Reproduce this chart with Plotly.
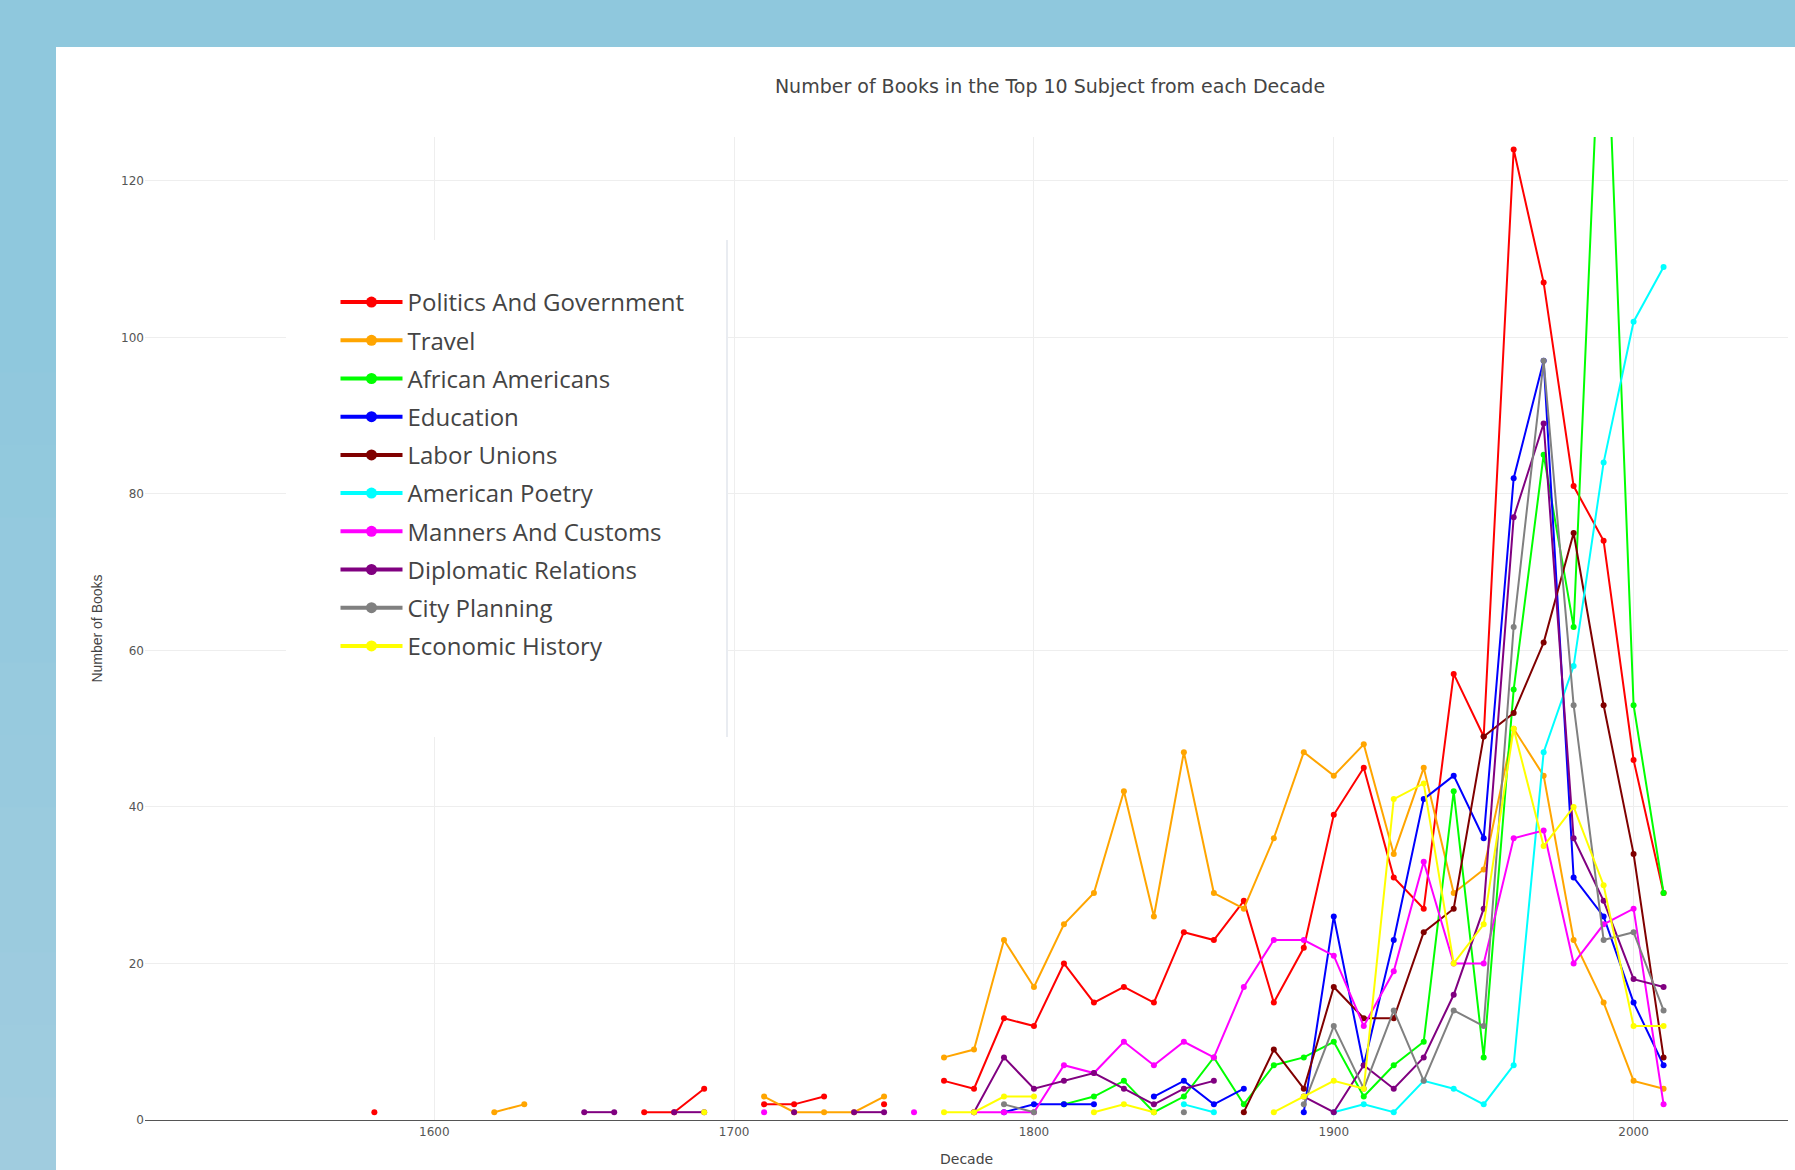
import plotly.graph_objects as go

N = None
decades = list(range(1580, 2020, 10))  # 1580 ... 2010 (44 decades)

#            1580 1590 1600 1610 1620 1630 1640 1650 1660 1670 1680 1690
#            1700 1710 1720 1730 1740 1750 1760 1770 1780 1790 1800 1810
#            1820 1830 1840 1850 1860 1870 1880 1890 1900 1910 1920 1930
#            1940 1950 1960 1970 1980 1990 2000 2010
politics = [1, N, N, N, N, N, N, N, N, 1, 1, 4,
            N, 2, 2, 3, N, 2, N, 5, 4, 13, 12, 20,
            15, 17, 15, 24, 23, 28, 15, 22, 39, 45, 31, 27,
            57, 49, 124, 107, 81, 74, 46, 29]
travel = [N, N, N, N, 1, 2, N, N, N, N, N, N,
          N, 3, 1, 1, 1, 3, N, 8, 9, 23, 17, 25,
          29, 42, 26, 47, 29, 27, 36, 47, 44, 48, 34, 45,
          29, 32, 50, 44, 23, 15, 5, 4]
african_americans = [N, N, N, N, N, N, N, N, N, N, N, N,
                     N, N, N, N, N, N, N, N, N, N, N, 2,
                     3, 5, 1, 3, 8, 2, 7, 8, 10, 3, 7, 10,
                     42, 8, 55, 85, 63, 152, 53, 29]
education = [N, N, N, N, N, N, N, N, N, N, N, N,
             N, N, N, N, N, N, N, N, N, 1, 2, 2,
             2, N, 3, 5, 2, 4, N, 1, 26, 7, 23, 41,
             44, 36, 82, 97, 31, 26, 15, 7]
labor_unions = [N, N, N, N, N, N, N, N, N, N, N, N,
                N, N, N, N, N, N, N, N, N, N, N, N,
                N, N, N, N, N, 1, 9, 4, 17, 13, 13, 24,
                27, 49, 52, 61, 75, 53, 34, 8]
american_poetry = [N, N, N, N, N, N, N, N, N, N, N, N,
                   N, N, N, N, N, N, N, N, N, N, N, N,
                   N, N, N, 2, 1, N, N, N, 1, 2, 1, 5,
                   4, 2, 7, 47, 58, 84, 102, 109]
manners_customs = [N, N, N, N, N, N, N, N, N, N, N, N,
                   N, 1, N, N, N, N, 1, N, 1, 1, 1, 7,
                   6, 10, 7, 10, 8, 17, 23, 23, 21, 12, 19, 33,
                   20, 20, 36, 37, 20, 25, 27, 2]
diplomatic = [N, N, N, N, N, N, N, 1, 1, N, 1, 1,
              N, N, 1, N, 1, 1, N, N, 1, 8, 4, 5,
              6, 4, 2, 4, 5, N, N, 3, 1, 7, 4, 8,
              16, 27, 77, 89, 36, 28, 18, 17]
city_planning = [N, N, N, N, N, N, N, N, N, N, N, N,
                 N, N, N, N, N, N, N, N, N, 2, 1, N,
                 N, N, N, 1, N, N, N, 2, 12, 4, 14, 5,
                 14, 12, 63, 97, 53, 23, 24, 14]
economic_history = [N, N, N, N, N, N, N, N, N, N, N, 1,
                    N, N, N, N, N, N, N, 1, 1, 3, 3, N,
                    1, 2, 1, N, N, N, 1, 3, 5, 4, 41, 43,
                    20, 25, 50, 35, 40, 30, 12, 12]

subjects = ["Politics And Government", "Travel", "African Americans", "Education",
            "Labor Unions", "American Poetry", "Manners And Customs",
            "Diplomatic Relations", "City Planning", "Economic History"]
series = [politics, travel, african_americans, education, labor_unions,
          american_poetry, manners_customs, diplomatic, city_planning, economic_history]
colors = ["#FF0000", "#FFA500", "#00FF00", "#0000FF", "#800000",
          "#00FFFF", "#FF00FF", "#800080", "#808080", "#FFFF00"]

x_ticks = [1600, 1700, 1800, 1900, 2000]
y_ticks = [0, 20, 40, 60, 80, 100, 120]

# ---- layout geometry (pixels) ----
W, H = 1795, 1170
L, R, T, B = 145, 1788, 137, 1120
PW, PH = R - L, B - T


def px(x):
    return (x - L) / PW


def py(y):
    return (B - y) / PH


fig = go.Figure()
for name, vals, col in zip(subjects, series, colors):
    fig.add_trace(go.Scatter(
        x=decades, y=vals, name=name, mode="lines+markers",
        line=dict(color=col, width=2), marker=dict(color=col, size=6),
        legendgroup=name, showlegend=False, connectgaps=False,
    ))
for name, col in zip(subjects, colors):
    fig.add_trace(go.Scatter(
        x=[None], y=[None], name=name, mode="lines+markers",
        line=dict(color=col, width=4), marker=dict(color=col, size=11),
        legendgroup=name, showlegend=True,
    ))

# left band: slight vertical gradient of the page background
band_top = (0x8F, 0xC8, 0xDD)
band_bot = (0xA0, 0xCC, 0xDF)
shapes = []
nb = 12
for i in range(nb):
    t = i / (nb - 1)
    c = tuple(round(a + (b - a) * t) for a, b in zip(band_top, band_bot))
    y0 = 300 + (1170 - 300) * i / nb
    y1 = 300 + (1170 - 300) * (i + 1) / nb
    shapes.append(dict(type="rect", xref="paper", yref="paper", layer="below",
                       x0=px(-5), x1=px(56), y0=py(y0), y1=py(y1 + 1),
                       fillcolor="rgb(%d,%d,%d)" % c, line=dict(width=0)))
shapes += [
    dict(type="rect", xref="paper", yref="paper", layer="below",
         x0=px(56), x1=px(1800), y0=py(47), y1=py(1175),
         fillcolor="white", line=dict(width=0)),
    dict(type="rect", xref="paper", yref="paper", layer="above",
         x0=px(286), x1=px(727), y0=py(240), y1=py(737),
         fillcolor="white", line=dict(width=0)),
    dict(type="line", xref="paper", yref="paper", layer="above",
         x0=px(727), x1=px(727), y0=py(240), y1=py(737),
         line=dict(color="#e9ecf1", width=2)),
]

fig.update_layout(
    width=W, height=H,
    margin=dict(l=L, r=W - R, t=T, b=H - B, pad=0),
    paper_bgcolor="#8FC8DD",
    plot_bgcolor="white",
    font=dict(family="DejaVu Sans", color="#444"),
    title=dict(text="Number of Books in the Top 10 Subject from each Decade",
               x=px(1050), xref="paper", xanchor="center",
               y=1 - 86 / H, yref="container", yanchor="middle",
               font=dict(family="DejaVu Sans", size=19, color="#444")),
    xaxis=dict(range=[1503.5, 2051.5], tickvals=x_ticks, showgrid=True,
               gridcolor="#eeeeee", gridwidth=1, zeroline=False,
               showline=True, linecolor="#555", linewidth=1.3,
               tickfont=dict(family="DejaVu Sans", size=12, color="#555")),
    yaxis=dict(range=[0, 125.6], tickvals=y_ticks, showgrid=True,
               gridcolor="#eeeeee", gridwidth=1, zeroline=False, showline=False,
               tickfont=dict(family="DejaVu Sans", size=12, color="#555"),
               title=dict(text="Number of Books",
                          font=dict(family="Liberation Sans", size=14, color="#444"))),
    legend=dict(x=px(335.5), y=py(280), xanchor="left", yanchor="top",
                bgcolor="rgba(0,0,0,0)", borderwidth=0,
                font=dict(family="Open Sans", size=24, color="#444"),
                itemwidth=62, tracegroupgap=4, traceorder="grouped"),
    annotations=[dict(text="Decade", xref="paper", yref="paper",
                      x=0.5, y=py(1159), xanchor="center", yanchor="middle",
                      showarrow=False,
                      font=dict(family="DejaVu Sans", size=14, color="#444"))],
    shapes=shapes,
    showlegend=True,
)

fig.write_html("out.html", config={"displayModeBar": False},
               post_script="document.body.style.margin='0';document.body.style.overflow='hidden';")
